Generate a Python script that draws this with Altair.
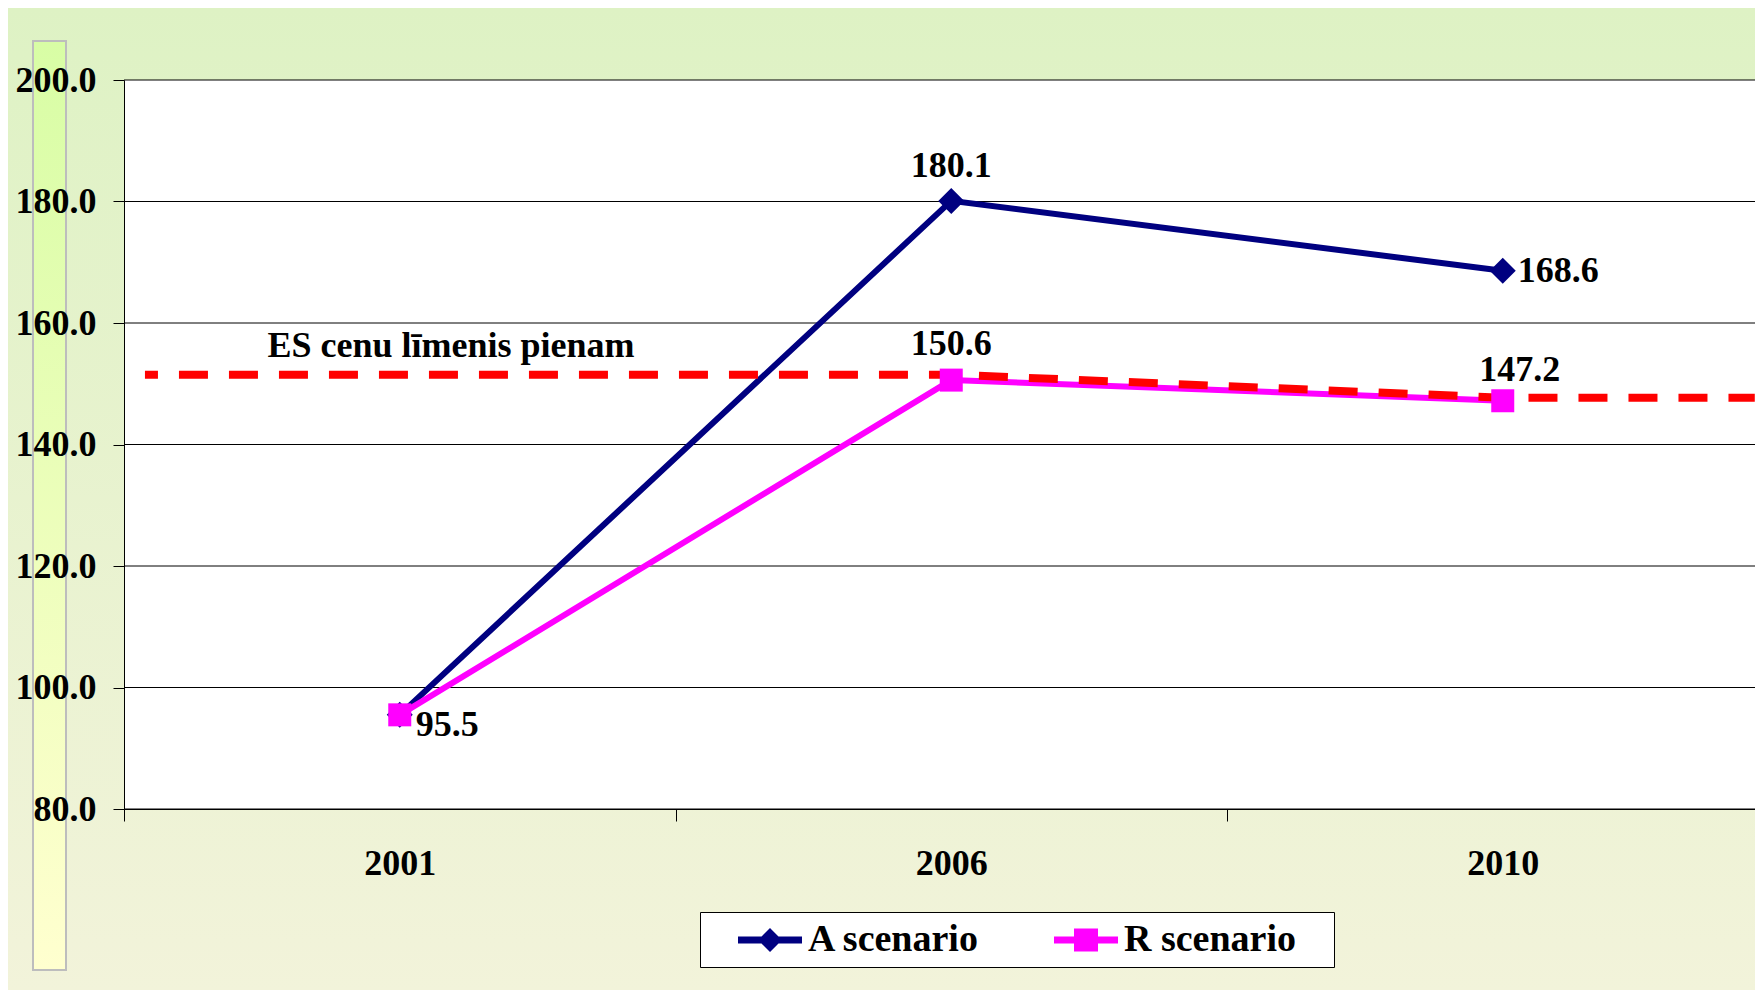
import json
import altair as alt
import pandas as pd

# ---- data ----
years = ["2001", "2006", "2010"]
series_names = ["A scenario", "R scenario"]
a_values = [95.5, 180.1, 168.6]
r_values = [95.5, 150.6, 147.2]
es_positions = [-0.462, 1.0, 2.0, 2.457]   # x positions (category index units)
es_values = [151.5, 151.5, 147.7, 147.7]
es_text = "ES cenu līmenis pienam"
y_ticks = [80, 100, 120, 140, 160, 180, 200]
x_boundaries = [-0.5, 0.5, 1.5]
colors = ["#000080", "#FF00FF"]

FONT = "Liberation Serif"
W, H = 1631, 729
PAD = {"left": 116, "top": 72, "right": 0, "bottom": 181}

rows = []
for s, vals in zip(series_names, [a_values, r_values]):
    for i, (yr, v) in enumerate(zip(years, vals)):
        rows.append({"series": s, "year": yr, "idx": i, "value": v})
df = pd.DataFrame(rows)
es_df = pd.DataFrame({"idx": es_positions, "value": es_values})
es_lbl = pd.DataFrame({"idx": [es_positions[0]], "value": [es_values[0]], "t": [es_text]})
grid_df = pd.DataFrame({"value": y_ticks})
one = pd.DataFrame({"k": [0]})

xscale = alt.Scale(domain=[-0.5, -0.5 + W / 551.5], nice=False, zero=False)
yscale = alt.Scale(domain=[80, 200], nice=False, zero=False)
xaxis = alt.Axis(
    values=x_boundaries, grid=False, zindex=1,
    labelExpr=f"{json.dumps(years)}[round(datum.value + 0.5)]",
    labelOffset=275.75, labelFlush=False, labelOverlap=False, labelBound=False,
    labelFont=FONT, labelFontSize=36, labelFontWeight="bold", labelColor="black",
    labelPadding=25, tickSize=12, tickColor="black", domainColor="black", domainWidth=1,
)
yaxis = alt.Axis(
    values=y_ticks, grid=False, zindex=1, format=".1f",
    labelFont=FONT, labelFontSize=36, labelFontWeight="bold", labelColor="black",
    labelPadding=17, tickSize=11, tickColor="black", domainColor="black", domainWidth=1,
)
X = alt.X("idx:Q", scale=xscale, axis=xaxis, title=None)
Y = alt.Y("value:Q", scale=yscale, axis=yaxis, title=None)

# decorative background
bg = alt.Chart(one).mark_rect(
    fill=alt.LinearGradient(gradient="linear", x1=0, x2=0, y1=0, y2=1,
                            stops=[alt.GradientStop(color="#DEF2C4", offset=0),
                                   alt.GradientStop(color="#F2F3DA", offset=1)])
).encode(x=alt.value(-PAD["left"]), x2=alt.value(W), y=alt.value(-PAD["top"]), y2=alt.value(H + PAD["bottom"]))
bar = alt.Chart(one).mark_rect(
    fill=alt.LinearGradient(gradient="linear", x1=0, x2=0, y1=0, y2=1,
                            stops=[alt.GradientStop(color="#D8FDA5", offset=0),
                                   alt.GradientStop(color="#FFFFCF", offset=1)]),
    stroke="#BDBDBD", strokeWidth=2,
).encode(x=alt.value(-91), x2=alt.value(-58), y=alt.value(-39), y2=alt.value(890))
plotbg = alt.Chart(one).mark_rect(fill="white").encode(
    x=alt.value(0), x2=alt.value(W), y=alt.value(0), y2=alt.value(H))

grid = alt.Chart(grid_df).mark_rule(color="black", strokeWidth=1).encode(y=Y)

base = alt.Chart(df)
fa = alt.datum.series == series_names[0]
fr = alt.datum.series == series_names[1]
line_a = base.transform_filter(fa).mark_line(color=colors[0], strokeWidth=6).encode(x=X, y=Y)
line_r = base.transform_filter(fr).mark_line(color=colors[1], strokeWidth=6).encode(x=X, y=Y)

es_line = alt.Chart(es_df).mark_line(
    color="#FF0000", strokeWidth=8, strokeDash=[29, 21], strokeDashOffset=16
).encode(x=X, y=Y)

pts_a = base.transform_filter(fa).mark_point(
    filled=True, opacity=1, strokeWidth=0, shape="diamond", size=676, color=colors[0]
).encode(x=X, y=Y)
pts_r = base.transform_filter(fr).mark_point(
    filled=True, opacity=1, strokeWidth=0, shape="square", size=529, color=colors[1]
).encode(x=X, y=Y)

# legend symbols: line with marker (path units: 20 px)
pathA = ("M-1.6,-0.175 L-0.425,-0.175 L0,-0.6 L0.425,-0.175 L1.6,-0.175 L1.6,0.175 "
         "L0.425,0.175 L0,0.6 L-0.425,0.175 L-1.6,0.175 Z")
pathR = ("M-1.6,-0.175 L-0.6,-0.175 L-0.6,-0.575 L0.6,-0.575 L0.6,-0.175 L1.6,-0.175 "
         "L1.6,0.175 L0.6,0.175 L0.6,0.575 L-0.6,0.575 L-0.6,0.175 L-1.6,0.175 Z")

legend = alt.Legend(
    title=" ", titleOrient="right", titlePadding=30, titleFontSize=8,
    orient="none", legendX=576, legendY=832, direction="horizontal", columns=2,
    fillColor="white", strokeColor="black", padding=8,
    symbolSize=1600, symbolStrokeWidth=0, symbolOpacity=1, symbolOffset=42,
    labelOffset=18, columnPadding=43,
    labelFont=FONT, labelFontSize=38, labelFontWeight="bold", labelColor="black", labelLimit=400,
)
legend_layer = base.mark_point(filled=True, opacity=0, strokeWidth=0).encode(
    x=X, y=Y,
    color=alt.Color("series:N", scale=alt.Scale(domain=series_names, range=colors), legend=legend),
    shape=alt.Shape("series:N", scale=alt.Scale(domain=series_names, range=[pathA, pathR]), legend=legend),
)

def lbl(flt, i, dx, dy, align):
    return base.transform_filter(flt & (alt.datum.idx == i)).mark_text(
        font=FONT, fontSize=36, fontWeight="bold", color="black",
        baseline="middle", align=align, dx=dx, dy=dy).encode(
        x=X, y=Y, text=alt.Text("value:Q", format=".1f"))

labels = [
    lbl(fa, 0, 16, 10, "left"),
    lbl(fa, 1, 0, -35, "center"),
    lbl(fa, 2, 15, 0, "left"),
    lbl(fr, 1, 0, -36, "center"),
    lbl(fr, 2, 17, -31, "center"),
]
es_label = alt.Chart(es_lbl).mark_text(
    font=FONT, fontSize=36, fontWeight="bold", color="black",
    baseline="middle", align="center", dx=306, dy=-29).encode(x=X, y=Y, text="t:N")

chart = alt.layer(
    bg, bar, plotbg, grid, line_a, line_r, es_line, pts_a, pts_r, legend_layer, *labels, es_label
).properties(
    width=W, height=H, autosize=alt.AutoSizeParams(type="none"), padding=PAD
).configure_view(strokeWidth=0)

chart.save("out.html", embed_options={"renderer": "svg", "actions": False})
